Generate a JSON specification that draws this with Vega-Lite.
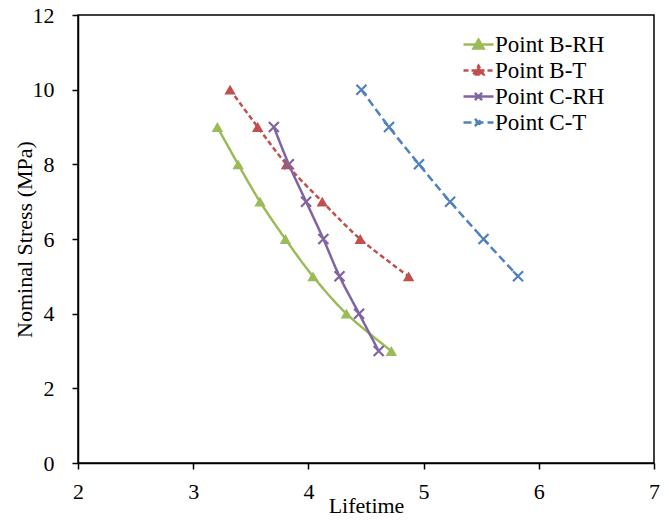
{
  "$schema": "https://vega.github.io/schema/vega-lite/v6.json",
  "width": 576,
  "height": 448,
  "autosize": {"type": "none"},
  "padding": {"left": 78, "top": 15, "right": 15, "bottom": 58},
  "background": "white",
  "config": {
    "font": "Liberation Serif",
    "view": {"stroke": "black", "strokeWidth": 1.5},
    "axis": {
      "grid": false,
      "domainColor": "black",
      "domainWidth": 1.5,
      "tickColor": "black",
      "tickWidth": 1.5,
      "tickSize": 6,
      "labelFont": "Liberation Serif",
      "labelFontSize": 22,
      "labelColor": "black",
      "titleFont": "Liberation Serif",
      "titleFontSize": 22,
      "titleFontWeight": "normal",
      "titleColor": "black"
    },
    "legend": {"labelFont": "Liberation Serif"}
  },
  "data": {
    "values": [
      {"series": "Point B-RH", "x": 3.21, "y": 9},
      {"series": "Point B-RH", "x": 3.39, "y": 8},
      {"series": "Point B-RH", "x": 3.58, "y": 7},
      {"series": "Point B-RH", "x": 3.80, "y": 6},
      {"series": "Point B-RH", "x": 4.04, "y": 5},
      {"series": "Point B-RH", "x": 4.33, "y": 4},
      {"series": "Point B-RH", "x": 4.72, "y": 3},
      {"series": "Point B-T", "x": 3.32, "y": 10},
      {"series": "Point B-T", "x": 3.56, "y": 9},
      {"series": "Point B-T", "x": 3.81, "y": 8},
      {"series": "Point B-T", "x": 4.12, "y": 7},
      {"series": "Point B-T", "x": 4.45, "y": 6},
      {"series": "Point B-T", "x": 4.87, "y": 5},
      {"series": "Point C-RH", "x": 3.70, "y": 9},
      {"series": "Point C-RH", "x": 3.83, "y": 8},
      {"series": "Point C-RH", "x": 3.98, "y": 7},
      {"series": "Point C-RH", "x": 4.13, "y": 6},
      {"series": "Point C-RH", "x": 4.27, "y": 5},
      {"series": "Point C-RH", "x": 4.44, "y": 4},
      {"series": "Point C-RH", "x": 4.61, "y": 3},
      {"series": "Point C-T", "x": 4.46, "y": 10},
      {"series": "Point C-T", "x": 4.70, "y": 9},
      {"series": "Point C-T", "x": 4.96, "y": 8},
      {"series": "Point C-T", "x": 5.23, "y": 7},
      {"series": "Point C-T", "x": 5.52, "y": 6},
      {"series": "Point C-T", "x": 5.82, "y": 5}
    ]
  },
  "encoding": {
    "x": {
      "field": "x", "type": "quantitative",
      "scale": {"domain": [2, 7], "nice": false, "zero": false},
      "axis": {"values": [2, 3, 4, 5, 6, 7], "title": "Lifetime", "labelPadding": 12, "titlePadding": -7, "labelFlush": false}
    },
    "y": {
      "field": "y", "type": "quantitative",
      "scale": {"domain": [0, 12], "nice": false},
      "axis": {"values": [0, 2, 4, 6, 8, 10, 12], "title": "Nominal Stress (MPa)", "labelPadding": 18, "titlePadding": -4, "labelFlush": false}
    },
    "color": {
      "field": "series", "type": "nominal",
      "scale": {
        "domain": ["Point B-RH", "Point B-T", "Point C-RH", "Point C-T"],
        "range": ["#9BBB59", "#C0504D", "#8064A2", "#4F81BD"]
      },
      "legend": {
        "title": null,
        "orient": "none",
        "legendX": 387,
        "legendY": 16,
        "padding": 0,
        "labelFont": "Liberation Serif",
        "labelFontSize": 23,
        "labelColor": "black",
        "labelOffset": 3,
        "rowPadding": -3.5,
        "symbolSize": 576,
        "symbolStrokeWidth": 2.5,
        "encode": {
          "symbols": {
            "update": {
              "shape": {"signal": "indexof(datum.value, 'B-') >= 0 ? 'M-1.25,0L1.25,0M-0.42,0.33L0,-0.4L0.42,0.33Z' : 'M-1.25,0L1.25,0M-0.3,-0.3L0.3,0.3M-0.3,0.3L0.3,-0.3'"},
              "strokeDash": {"signal": "indexof(datum.value, '-T') >= 0 ? [5, 3] : [100, 0]"},
              "fill": {"scale": "color", "field": "value"},
              "stroke": {"scale": "color", "field": "value"},
              "fillOpacity": {"value": 1},
              "opacity": {"value": 1}
            }
          }
        }
      }
    }
  },
  "layer": [
    {
      "mark": {"type": "line", "interpolate": "catmull-rom", "strokeWidth": 2.5},
      "encoding": {
        "order": {"field": "x", "type": "quantitative"},
        "strokeDash": {
          "field": "series", "type": "nominal",
          "scale": {
            "domain": ["Point B-RH", "Point B-T", "Point C-RH", "Point C-T"],
            "range": [[1, 0], [5, 3], [1, 0], [8, 4]]
          },
          "legend": null
        }
      }
    },
    {
      "mark": {"type": "point", "filled": true, "size": 130, "opacity": 1},
      "transform": [{"filter": "indexof(datum.series, 'B-') >= 0"}],
      "encoding": {"shape": {"value": "triangle-up"}}
    },
    {
      "mark": {"type": "point", "filled": false, "size": 100, "strokeWidth": 2.2, "opacity": 1, "shape": "M-1,-1L1,1M-1,1L1,-1"},
      "transform": [{"filter": "indexof(datum.series, 'C-') >= 0"}]
    }
  ]
}
